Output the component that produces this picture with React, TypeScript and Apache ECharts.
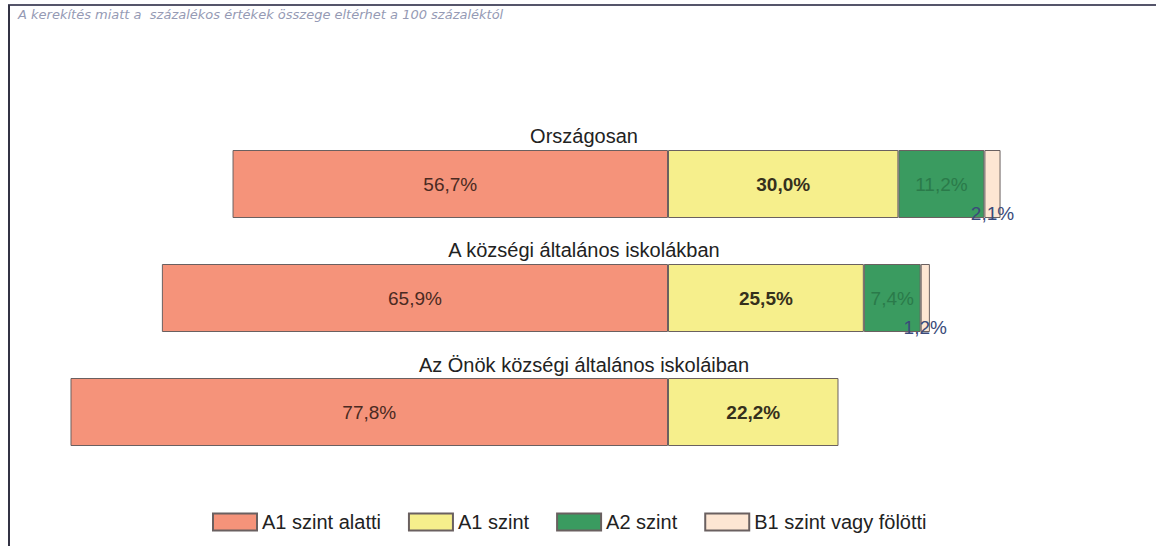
import React, { useEffect, useRef } from "react";
import * as echarts from "echarts";

const categories = [
  "Országosan",
  "A községi általános iskolákban",
  "Az Önök községi általános iskoláiban",
];
const seriesNames = ["A1 szint alatti", "A1 szint", "A2 szint", "B1 szint vagy fölötti"];
const belowA1 = [56.7, 65.9, 77.8];
const levelA1 = [30.0, 25.5, 22.2];
const levelA2 = [11.2, 7.4, null];
const levelB1 = [2.1, 1.2, null];
const note = "A kerekítés miatt a  százalékos értékek összege eltérhet a 100 százaléktól";

const colors = ["#f5937a", "#f6ef8c", "#3a9b60", "#fde6d3"];
const labelColors = ["#4a2a22", "#35301c", "#2a7a4a", "#3a4a7a"];

const fmt = (v: number) => Math.abs(v).toFixed(1).replace(".", ",") + "%";

export default function App() {
  const ref = useRef<HTMLDivElement>(null);
  useEffect(() => {
    if (!ref.current) return;
    const chart = echarts.init(ref.current, null, { renderer: "svg" });
    const font = "'Liberation Sans', Arial, sans-serif";
    const data = [belowA1.map((v) => -v), levelA1, levelA2, levelB1];
    const series = data.map((arr, i) => ({
      name: seriesNames[i],
      type: "bar",
      stack: "total",
      barWidth: 68,
      data: arr,
      itemStyle: { color: colors[i], borderColor: "#6a6060", borderWidth: 1 },
      label: {
        show: true,
        position: i === 3 ? "insideBottom" : "inside",
        offset: i === 3 ? [0, 10] : [0, 0],
        formatter: (p: any) => (p.value == null ? "" : fmt(p.value)),
        fontFamily: font,
        fontSize: 19,
        fontWeight: i === 1 ? "bold" : "normal",
        color: labelColors[i],
      },
    }));
    const catY = [136, 250, 365];
    chart.setOption({
      animation: false,
      backgroundColor: "#ffffff",
      grid: { left: 53.6, right: 27.2, top: 127, bottom: 77, containLabel: false },
      xAxis: {
        type: "value",
        min: -80,
        max: 60,
        show: false,
      },
      yAxis: {
        type: "category",
        data: categories,
        inverse: true,
        show: false,
      },
      legend: {
        data: seriesNames,
        icon: "rect",
        left: 207,
        top: 507,
        itemWidth: 44,
        itemHeight: 17,
        itemGap: 27,
        textStyle: { fontFamily: font, fontSize: 20, color: "#222" },
      },
      graphic: [
        {
          type: "line",
          shape: { x1: 8, y1: 5, x2: 1156, y2: 5 },
          style: { stroke: "#55556a", lineWidth: 2 },
        },
        {
          type: "line",
          shape: { x1: 9, y1: 5, x2: 9, y2: 546 },
          style: { stroke: "#333344", lineWidth: 2 },
        },
        {
          type: "text",
          x: 18,
          y: 14,
          style: {
            text: note,
            fontFamily: "'DejaVu Sans', sans-serif",
            fontStyle: "italic",
            fontSize: 13,
            fill: "#959ab4",
            textVerticalAlign: "middle",
          },
        },
        ...categories.map((c, i) => ({
          type: "text",
          x: 584,
          y: catY[i],
          style: {
            text: c,
            fontFamily: font,
            fontSize: 20,
            fill: "#222",
            textAlign: "center",
            textVerticalAlign: "middle",
          },
        })),
      ],
      series,
    });
    return () => chart.dispose();
  }, []);
  return (
    <div
      ref={ref}
      style={{ position: "fixed", left: 0, top: 0, width: 1156, height: 546 }}
    />
  );
}
